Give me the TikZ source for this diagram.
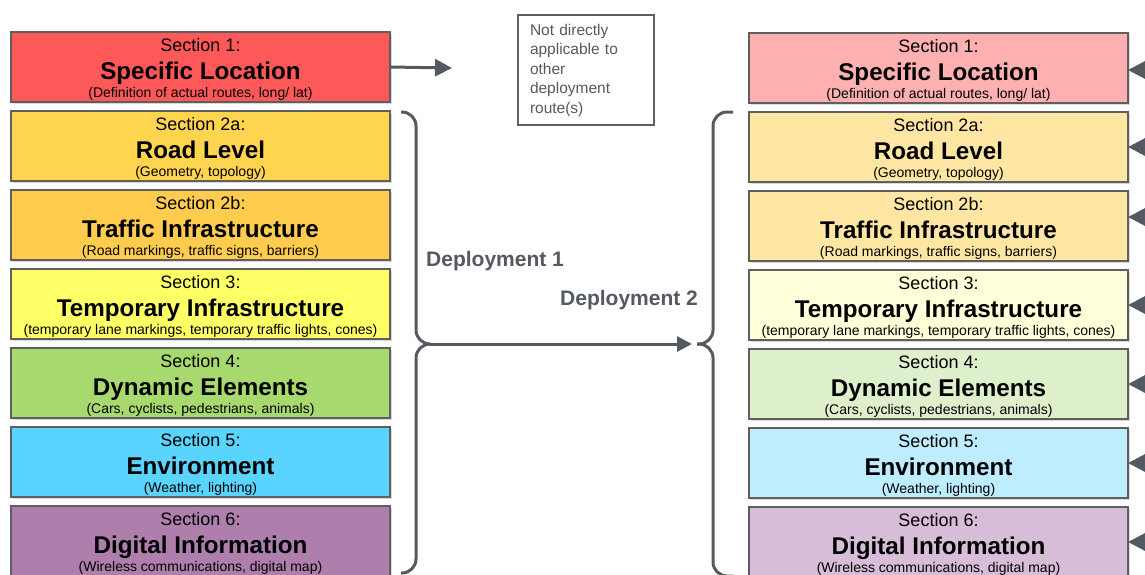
\documentclass[tikz,border=0pt]{standalone}
\usepackage{fontspec}
\setmainfont{Liberation Sans}
\usetikzlibrary{arrows.meta,positioning,shadows}

\definecolor{linegray}{HTML}{555960}
\definecolor{boxedge}{HTML}{5F5F5F}
\definecolor{redL}{HTML}{FF5858}
\definecolor{redR}{HTML}{FFB0B0}
\definecolor{yelA}{HTML}{FFD550}
\definecolor{yelB}{HTML}{FFCC4E}
\definecolor{yelR}{HTML}{FFE7A3}
\definecolor{lemL}{HTML}{FFFF66}
\definecolor{lemR}{HTML}{FFFFDA}
\definecolor{grnL}{HTML}{A8D96F}
\definecolor{grnR}{HTML}{DEEFCB}
\definecolor{bluL}{HTML}{59D4FF}
\definecolor{bluR}{HTML}{BDEDFF}
\definecolor{vioL}{HTML}{AE7EAD}
\definecolor{vioR}{HTML}{D8BDD8}

\tikzset{
  secbox/.style={draw=boxedge, line width=1.5pt, minimum width=379pt,
    minimum height=70pt, inner sep=0pt, outer sep=0pt,
    drop shadow={shadow xshift=1.5pt, shadow yshift=-1.5pt, opacity=0.3}},
  seclab/.style={anchor=base, inner sep=0pt, font=\fontsize{18}{20}\selectfont},
  sectitle/.style={anchor=base, inner sep=0pt, font=\fontsize{24.2}{27}\selectfont\bfseries},
  secsub/.style={anchor=base, inner sep=0pt, font=\fontsize{14}{16}\selectfont},
  conn/.style={draw=linegray, line width=3pt},
  tip/.style={-{Triangle[length=17pt,width=17pt]}},
  deplabel/.style={anchor=base west, inner sep=0pt, text=linegray,
    font=\fontsize{21}{24}\selectfont\bfseries},
}

\begin{document}
\begin{tikzpicture}[x=1pt, y=-1pt]
\useasboundingbox (0,0) rectangle (1145,574);
\clip (0,0) rectangle (1145,574);

% the sections, left and right column
\foreach \lab/\ttl/\sub/\cl/\cr [count=\n] in {
    {Section 1:}/{Specific Location}/{(Definition of actual routes, long/ lat)}/redL/redR,
    {Section 2a:}/{Road Level}/{(Geometry, topology)}/yelA/yelR,
    {Section 2b:}/{Traffic Infrastructure}/{(Road markings, traffic signs, barriers)}/yelB/yelR,
    {Section 3:}/{Temporary Infrastructure}/{(temporary lane markings, temporary traffic lights, cones)}/lemL/lemR,
    {Section 4:}/{Dynamic Elements}/{(Cars, cyclists, pedestrians, animals)}/grnL/grnR,
    {Section 5:}/{Environment}/{(Weather, lighting)}/bluL/bluR,
    {Section 6:}/{Digital Information}/{(Wireless communications, digital map)}/vioL/vioR}{
  \node[secbox, fill=\cl] (l\n) at (200.5, 67+79*\n-79) {};
  \node[seclab] (l\n-a) at ([yshift=-19pt]l\n.north) {\lab};
  \node[sectitle] (l\n-b) at ([yshift=-47pt]l\n.north) {\ttl};
  \node[secsub] (l\n-c) at ([yshift=-65.5pt]l\n.north) {\sub};
  \node[secbox, fill=\cr] (r\n) at (938.5, 68+79*\n-79) {};
  \node[seclab] (r\n-a) at ([yshift=-19pt]r\n.north) {\lab};
  \node[sectitle] (r\n-b) at ([yshift=-47pt]r\n.north) {\ttl};
  \node[secsub] (r\n-c) at ([yshift=-65.5pt]r\n.north) {\sub};
}

% incoming arrows on the right
\foreach \n/\dy in {1/-2,2/0,3/9,4/0,5/0,6/0,7/0}{
  \coordinate (in\n) at ([xshift=40pt, yshift=\dy pt]r\n.east);
  \draw[conn,tip] (in\n) -- ([yshift=\dy pt]r\n.east);
}

% location only
\coordinate (na) at (452,68);
\draw[conn,tip] (l1.east) -- (na);
\node[draw=boxedge, line width=2pt, anchor=north west, minimum width=136pt,
  minimum height=110pt, text width=112pt, inner xsep=12pt, align=left,
  text=linegray, font=\fontsize{15.5}{19.5}\selectfont] (note) at (517,14)
  {Not directly\\applicable to\\other\\deployment\\route(s)};

% braces
\coordinate (d1) at (430,344);
\coordinate (d2) at (692,344);
\draw[conn, rounded corners=14pt] (401,112) -| (416,344) -- (d1);
\draw[conn, rounded corners=14pt] (d1) -| (416,573) -- (401,573);
\draw[conn, rounded corners=14pt] (733,112) -| (713,344) -- (697,344);
\draw[conn, rounded corners=14pt] (697,344) -| (713,576) -- (733,576);
\draw[conn, -{Triangle[length=15pt,width=15pt]}] (d1) -- (d2);

\node[deplabel] (dep1) at (426,266.5) {Deployment 1};
\node[deplabel] (dep2) at (560,305) {Deployment 2};
\end{tikzpicture}
\end{document}
